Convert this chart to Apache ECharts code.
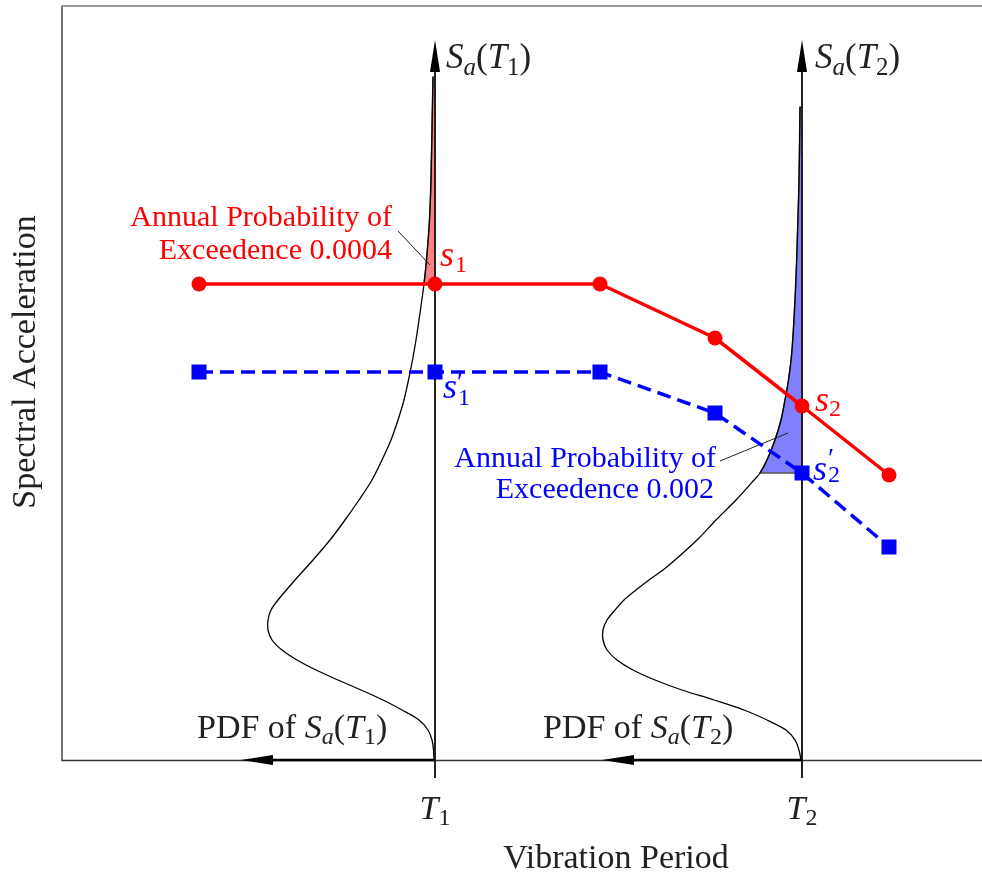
<!DOCTYPE html>
<html>
<head>
<meta charset="utf-8">
<script src="https://cdn.jsdelivr.net/npm/echarts@6/dist/echarts.min.js"></script>
<style>
  html, body { margin: 0; padding: 0; background: #fff; }
  #chart { width: 982px; height: 878px; }
</style>
</head>
<body>
<div id="chart"></div>
<script>
// Vibration periods of interest and the spectra sampled at them
const T1 = 3.73;
const T2 = 7.40;
const periods    = [1.37, 3.73, 5.38, 6.53, 7.40, 8.27];
const saRare     = [4.76, 4.76, 4.76, 4.22, 3.54, 2.85];   // annual exceedance 0.0004
const saFrequent = [3.88, 3.88, 3.88, 3.47, 2.87, 2.13];   // annual exceedance 0.002
const tickLabels = ['T1', 'T2'];

// PDF of Sa at each period: [Sa, density]
const pdfT1 = [
  [0.00, 0.01], [0.10, 0.015], [0.20, 0.03], [0.30, 0.07], [0.40, 0.16],
  [0.50, 0.33], [0.60, 0.52], [0.70, 0.74], [0.80, 0.97], [0.90, 1.19],
  [1.00, 1.38], [1.10, 1.53], [1.20, 1.63], [1.30, 1.67], [1.40, 1.67],
  [1.50, 1.64], [1.60, 1.57], [1.80, 1.40], [2.00, 1.22], [2.20, 1.05],
  [2.40, 0.90], [2.60, 0.76], [2.80, 0.63], [3.00, 0.53], [3.20, 0.44],
  [3.40, 0.37], [3.60, 0.31], [3.80, 0.265], [4.00, 0.225], [4.20, 0.19],
  [4.40, 0.16], [4.76, 0.11], [5.00, 0.085], [5.40, 0.055], [5.80, 0.04],
  [6.30, 0.03], [6.83, 0.02]
];
const pdfT2 = [
  [0.00, 0.01], [0.10, 0.03], [0.20, 0.07], [0.30, 0.16], [0.40, 0.35],
  [0.50, 0.58], [0.60, 0.88], [0.70, 1.20], [0.80, 1.47], [0.90, 1.69],
  [1.00, 1.85], [1.10, 1.95], [1.20, 1.99], [1.30, 1.99], [1.40, 1.95],
  [1.50, 1.87], [1.60, 1.78], [1.70, 1.66], [1.80, 1.53], [1.90, 1.39],
  [2.00, 1.27], [2.20, 1.05], [2.40, 0.86], [2.60, 0.66], [2.80, 0.48],
  [2.87, 0.42], [3.00, 0.35], [3.20, 0.27], [3.40, 0.21], [3.60, 0.17],
  [3.80, 0.135], [4.10, 0.10], [4.60, 0.07], [5.10, 0.05], [5.80, 0.03],
  [6.53, 0.02]
];

// Leader lines from the probability notes to the shaded tails: [period, Sa]
const leaderRare     = [[3.36, 5.29], [3.68, 4.95]];
const leaderFrequent = [[6.58, 2.99], [7.26, 3.27]];

// Arrowed axes: Sa axes at T1/T2 and the density axes pointing left
const arrowSegments = [
  [T1, 0, T1, 7.20],
  [T2, 0, T2, 7.20],
  [T1, 0, 1.79, 0],
  [T2, 0, 5.40, 0]
];

const SERIF = '"Liberation Serif", "DejaVu Serif", serif';
const INK = '#222';
const RED = '#ff0000';
const BLUE = '#0000ff';

function mathRich(F, color) {
  const base = { fontFamily: SERIF, color: color, fill: color, verticalAlign: 'middle', lineHeight: Math.round(F * 1.3) };
  const s = Math.round(F * 0.72);
  const drop = Math.round(F * 0.5);
  return {
    it:    Object.assign({}, base, { fontSize: F, fontStyle: 'italic' }),
    rm:    Object.assign({}, base, { fontSize: F }),
    subIt: Object.assign({}, base, { fontSize: s, fontStyle: 'italic', padding: [drop, 0, 0, 0] }),
    subRm: Object.assign({}, base, { fontSize: s, padding: [drop, 0, 0, 0] })
  };
}

function txt(x, y, text, F, color, align) {
  return {
    type: 'text', x: x, y: y, silent: true, z: 100,
    style: {
      text: text, fill: color, fontFamily: SERIF, fontSize: F,
      align: align, verticalAlign: 'middle',
      textAlign: align, textVerticalAlign: 'middle',
      rich: mathRich(F, color)
    }
  };
}

function plainTxt(x, y, text, F, color, align, italic) {
  return {
    type: 'text', x: x, y: y, silent: true, z: 100,
    style: {
      text: text, fill: color, fontFamily: SERIF, fontSize: F,
      fontStyle: italic ? 'italic' : 'normal',
      align: align, verticalAlign: 'middle',
      textAlign: align, textVerticalAlign: 'middle'
    }
  };
}

// Catmull-Rom curve through pixel points, as SVG path commands
function splinePath(pts) {
  const f = v => v.toFixed(2);
  let d = 'M' + f(pts[0][0]) + ' ' + f(pts[0][1]);
  for (let i = 0; i < pts.length - 1; i++) {
    const p0 = pts[i - 1] || pts[i], p1 = pts[i], p2 = pts[i + 1], p3 = pts[i + 2] || pts[i + 1];
    const c1x = p1[0] + (p2[0] - p0[0]) / 6, c1y = p1[1] + (p2[1] - p0[1]) / 6;
    const c2x = p2[0] - (p3[0] - p1[0]) / 6, c2y = p2[1] - (p3[1] - p1[1]) / 6;
    d += ' C' + f(c1x) + ' ' + f(c1y) + ' ' + f(c2x) + ' ' + f(c2y) + ' ' + f(p2[0]) + ' ' + f(p2[1]);
  }
  return d;
}

// PDF drawn sideways to the left of its period line
function pdfSeries(pdf, T) {
  return {
    type: 'custom', z: 2, silent: true,
    data: [[T, 0]],
    renderItem: function (params, api) {
      const pts = pdf.map(p => api.coord([T - p[1], p[0]]));
      return {
        type: 'path',
        shape: { pathData: splinePath(pts) },
        style: { fill: null, stroke: '#000', lineWidth: 1.3 }
      };
    }
  };
}

// exceedance tail of a PDF above a threshold, closed against the period line
function tailSeries(pdf, T, threshold, fill) {
  const tail = pdf.filter(p => p[0] >= threshold - 1e-9);
  const top = tail[tail.length - 1][0];
  return {
    type: 'custom', z: 1, silent: true,
    data: [[T, threshold]],
    renderItem: function (params, api) {
      const pts = tail.map(p => api.coord([T - p[1], p[0]]));
      const a = api.coord([T, top]);
      const b = api.coord([T, threshold]);
      const d = splinePath(pts) + ' L' + a[0] + ' ' + a[1] + ' L' + b[0] + ' ' + b[1] + ' Z';
      return {
        type: 'path',
        shape: { pathData: d },
        style: { fill: fill, stroke: '#555', lineWidth: 1.5 }
      };
    }
  };
}

const chart = echarts.init(document.getElementById('chart'), null, { renderer: 'canvas' });

const option = {
  backgroundColor: '#fff',
  animation: false,
  grid: { left: 62, right: 0, top: 6, bottom: 118, containLabel: false },
  xAxis: [{
    type: 'value', min: 0, max: 9.2, position: 'bottom',
    axisLine: { show: true, onZero: false, lineStyle: { color: '#333', width: 1.3 } },
    axisTick: { show: true, customValues: [T1, T2], length: 18, inside: false, lineStyle: { color: INK, width: 2 } },
    axisLabel: {
      show: true, customValues: [T1, T2], margin: 28,
      formatter: function (v) {
        const k = Math.abs(v - T1) < 1e-6 ? 0 : 1;
        const lbl = tickLabels[k];
        return '{it|' + lbl.charAt(0) + '}{subRm|' + lbl.slice(1) + '}';
      },
      rich: mathRich(34, INK)
    },
    splitLine: { show: false }
  }, {
    type: 'value', min: 0, max: 9.2, position: 'top',
    axisLine: { show: true, onZero: false, lineStyle: { color: '#9a9a9a', width: 2 } },
    axisTick: { show: false }, axisLabel: { show: false }, splitLine: { show: false }
  }],
  yAxis: {
    type: 'value', min: 0, max: 7.54,
    axisLine: { show: true, onZero: false, lineStyle: { color: '#444', width: 1.5 } },
    axisTick: { show: false }, axisLabel: { show: false }, splitLine: { show: false }
  },
  series: [
    tailSeries(pdfT1, T1, saRare[1], '#ff8080'),
    tailSeries(pdfT2, T2, saFrequent[4], '#8080ff'),
    pdfSeries(pdfT1, T1),
    pdfSeries(pdfT2, T2),
    {
      type: 'line', z: 2, silent: true, showSymbol: false, data: leaderRare,
      lineStyle: { color: INK, width: 1 }
    },
    {
      type: 'line', z: 2, silent: true, showSymbol: false, data: leaderFrequent,
      lineStyle: { color: INK, width: 1 }
    },
    {
      type: 'custom', z: 3, silent: true,
      data: arrowSegments,
      encode: { x: [0, 2], y: [1, 3] },
      renderItem: function (params, api) {
        const p0 = api.coord([api.value(0), api.value(1)]);
        const p1 = api.coord([api.value(2), api.value(3)]);
        const dx = p1[0] - p0[0], dy = p1[1] - p0[1];
        const len = Math.hypot(dx, dy);
        const ux = dx / len, uy = dy / len;
        const head = 32, half = 5;
        const bx = p1[0] - ux * head, by = p1[1] - uy * head;
        const vertical = Math.abs(uy) > 0.5;
        return {
          type: 'group',
          children: [
            {
              type: 'line',
              shape: { x1: p0[0], y1: p0[1], x2: bx + ux * 4, y2: by + uy * 4 },
              style: { stroke: vertical ? INK : '#000', lineWidth: vertical ? 2 : 2.6 }
            },
            {
              type: 'polygon',
              shape: { points: [[p1[0], p1[1]], [bx - uy * half, by + ux * half], [bx + uy * half, by - ux * half]] },
              style: { fill: '#000' }
            }
          ]
        };
      }
    },
    {
      name: 'Exceedence 0.002', type: 'line', z: 4,
      data: periods.map((t, i) => [t, saFrequent[i]]),
      symbol: 'rect', symbolSize: 15,
      itemStyle: { color: BLUE },
      lineStyle: { color: BLUE, width: 3.5, type: [14, 7] }
    },
    {
      name: 'Exceedence 0.0004', type: 'line', z: 5,
      data: periods.map((t, i) => [t, saRare[i]]),
      symbol: 'circle', symbolSize: 15,
      itemStyle: { color: RED },
      lineStyle: { color: RED, width: 3.5 }
    }
  ],
  graphic: [
    // notes on the exceedance levels
    plainTxt(392, 218, 'Annual Probability of', 30, RED, 'right'),
    plainTxt(392, 251, 'Exceedence 0.0004', 30, RED, 'right'),
    plainTxt(716, 459, 'Annual Probability of', 30, BLUE, 'right'),
    plainTxt(714, 490, 'Exceedence 0.002', 30, BLUE, 'right'),

    // intensity labels
    plainTxt(440, 257, 's', 36, RED, 'left', true),
    plainTxt(455, 266, '1', 24, RED, 'left'),
    plainTxt(815, 402, 's', 36, RED, 'left', true),
    plainTxt(829, 410, '2', 24, RED, 'left'),
    plainTxt(443, 389, 's', 36, BLUE, 'left', true),
    plainTxt(457, 384, '\u2032', 28, BLUE, 'left'),
    plainTxt(458, 399, '1', 24, BLUE, 'left'),
    plainTxt(813, 471, 's', 36, BLUE, 'left', true),
    plainTxt(828, 460, '\u2032', 28, BLUE, 'left'),
    plainTxt(828, 476, '2', 24, BLUE, 'left'),

    // axis captions
    txt(446, 59, '{it|S}{subIt|a}{rm|(}{it|T}{subRm|1}{rm|)}', 35, INK, 'left'),
    txt(815, 59, '{it|S}{subIt|a}{rm|(}{it|T}{subRm|2}{rm|)}', 35, INK, 'left'),
    txt(197, 729, '{rm|PDF of }{it|S}{subIt|a}{rm|(}{it|T}{subRm|1}{rm|)}', 34, INK, 'left'),
    txt(543, 729, '{rm|PDF of }{it|S}{subIt|a}{rm|(}{it|T}{subRm|2}{rm|)}', 34, INK, 'left'),
    plainTxt(616, 859, 'Vibration Period', 34, INK, 'center'),
    Object.assign(plainTxt(26, 362, 'Spectral Acceleration', 34, INK, 'center'), { rotation: Math.PI / 2 })
  ]
};

chart.setOption(option);
</script>
</body>
</html>
